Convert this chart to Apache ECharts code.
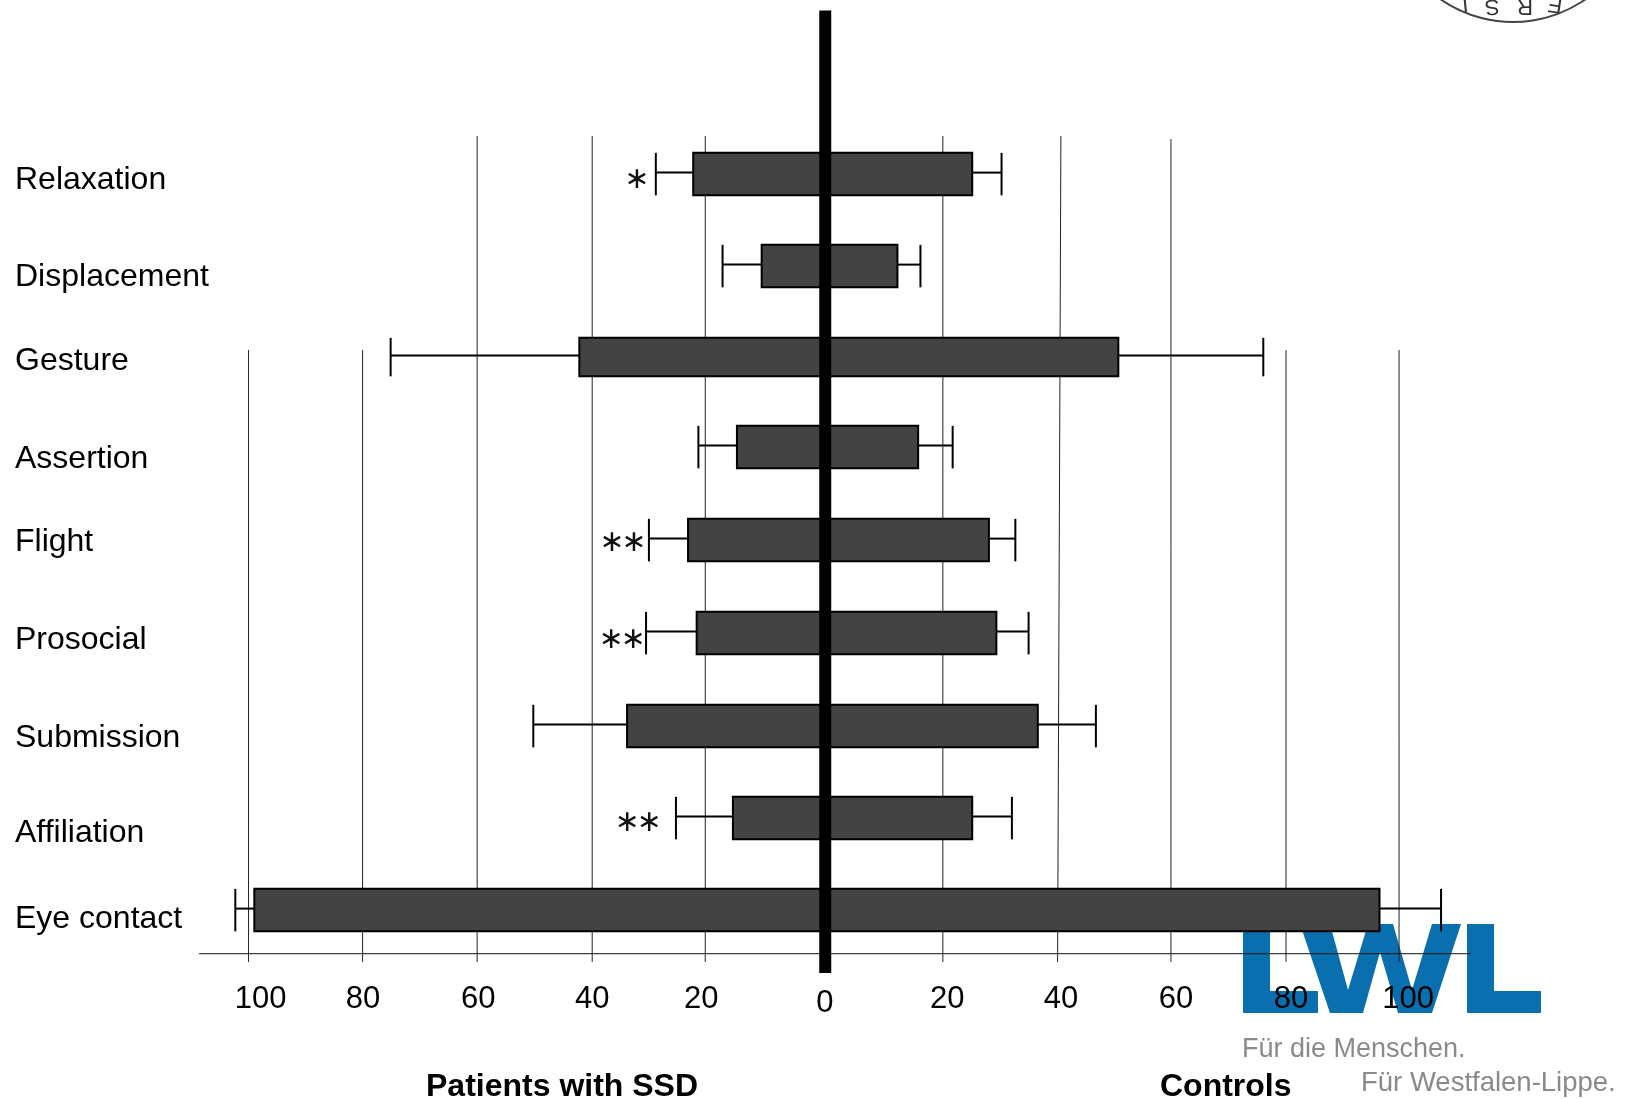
<!DOCTYPE html>
<html><head><meta charset="utf-8">
<script src="https://cdn.jsdelivr.net/npm/echarts@6/dist/echarts.min.js"></script>
<style>html,body{margin:0;padding:0;background:#fff}#c{width:1625px;height:1099px}</style>
</head><body><div id="c"></div>
<script>
const categories = ['Relaxation','Displacement','Gesture','Assertion','Flight','Prosocial','Submission','Affiliation','Eye contact'];
const patients = [22.7,10.8,42.5,15.1,23.6,22.1,34.2,15.8,99];
const patientsError = [29.2,17.6,75.3,21.8,30.4,30.9,50.5,25.7,102.3];
const controls = [25.8,12.8,51.2,16.4,28.7,30,37.2,25.8,96.6];
const controlsError = [30.9,16.8,76.4,22.4,33.3,35.6,47.3,32.7,107.3];
const significance = ['*','','','','**','**','','**',''];
const tickValues = [-100,-80,-60,-40,-20,0,20,40,60,80,100];

// layout tuning (pixels), not data
const rowNudge = [0.5,0.5,-0.5,-2.5,-1.5,-0.5,0.5,0.5,0.5];
const rowHeight = [42.5,42.5,38.5,42.5,42.5,42.5,42.5,42.5,42.5];
const labelNudge = [6.6,11.5,4,9.4,0.4,7,12.6,15.6,9.4];
const starGap = [8,0,0,0,4,2,0,16,0];
const starDrop = [6.4,0,0,0,3.5,7.4,0,5.4,0];
const tickLabelShift = {'-100':12,'-80':-0.5,'-60':-0.5,'-40':-1.5,'-20':-7.5,'0':1,'20':8.5,'40':7,'60':7,'80':7,'100':9};
const gridNudge = {'-100':0,'-80':-1,'-60':-1.5,'-40':-1.5,'-20':-3.5,'20':4,'40':4,'60':2,'80':2,'100':0};
const topShort = 350, topTall = 136, gridBottom = 962, baseY = 953.7;

const chart = echarts.init(document.getElementById('c'), null, {renderer:'canvas'});

function barItem(params, api){
  const i = params.dataIndex;
  const c = api.coord([0,i]);
  const cy = c[1] + rowNudge[i];
  const h = rowHeight[i];
  const l = api.coord([-patients[i],i])[0], r = api.coord([controls[i],i])[0];
  const le = api.coord([-patientsError[i],i])[0], re = api.coord([controlsError[i],i])[0];
  const ls = {stroke:'#000',lineWidth:2,fill:null};
  const wy = cy - 1.5;
  const line=(x1,y1,x2,y2)=>({type:'line',shape:{x1,y1,x2,y2},style:ls});
  const kids = [
    line(le,wy,l,wy), line(le,cy-h/2,le,cy+h/2),
    line(r,wy,re,wy), line(re,cy-h/2,re,cy+h/2),
    {type:'rect',shape:{x:l,y:cy-h/2,width:r-l,height:h},style:{fill:'#434343',stroke:'#000',lineWidth:2}}
  ];
  for(let k=0;k<significance[i].length;k++){
    kids.push({type:'text',style:{text:'∗',x:le-starGap[i]-11-22*k,y:cy+starDrop[i],align:'center',verticalAlign:'middle',
      font:'30px "DejaVu Sans"',fill:'#111'}});
  }
  return {type:'group',children:kids};
}
function gridItem(params, api){
  const v = tickValues[params.dataIndex];
  if(v===0) return null;
  const x = api.coord([v,0])[0] + (gridNudge[v]||0);
  const y1 = Math.abs(v)>=80 ? topShort : (v===60 ? topTall+3 : topTall);
  const tilt = v===40 ? 3 : 0;
  return {type:'line',shape:{x1:x+tilt,y1,x2:x-tilt*0.1,y2:gridBottom},style:{stroke:'#222',lineWidth:1}};
}
function baseItem(params, api){
  const x1 = api.coord([-108.6,0])[0], x2 = api.coord([112.5,0])[0];
  const x0 = api.coord([0.25,0])[0];
  return {type:'group',children:[
    {type:'line',shape:{x1,y1:baseY,x2,y2:baseY},style:{stroke:'#111',lineWidth:1}},
    {type:'rect',z2:5,shape:{x:x0-6,y:10.5,width:12,height:962.5},style:{fill:'#000'}}
  ]};
}
const tickRich = {};
tickValues.forEach(v=>{
  const s=tickLabelShift[v]||0;
  tickRich['t'+(v+100)]={fontSize:31,fontFamily:'Liberation Sans',color:'#000',padding:[v===0?4:0, s<0?-2*s:0, 0, s>0?2*s:0]};
});
const catRich = {};
categories.forEach((c,i)=>{
  catRich['c'+i]={fontSize:32,fontFamily:'Liberation Sans',color:'#000',padding:[2*labelNudge[i],0,0,0]};
});

chart.setOption({
  animation:false,
  backgroundColor:'#fff',
  grid:{left:133.5,width:1380.6,top:127.6,height:828},
  xAxis:{type:'value',min:-120,max:120,interval:20,
    axisLine:{show:false},axisTick:{show:false},splitLine:{show:false},
    axisLabel:{margin:28,showMinLabel:false,showMaxLabel:false,
      formatter:v=>`{t${v+100}|${Math.abs(v)}}`,rich:tickRich}},
  yAxis:{type:'category',inverse:true,data:categories,
    axisLine:{show:false},axisTick:{show:false},splitLine:{show:false},
    axisLabel:{margin:118.5,align:'left',interval:0,
      formatter:(v,i)=>`{c${categories.indexOf(v)}|${v}}`,rich:catRich}},
  graphic:{elements:[
    // LWL logo
    {type:'polygon',z:-1,shape:{points:[[1243,924],[1270,924],[1270,991],[1318,991],[1318,1013],[1243,1013]]},style:{fill:'#0a6fae'}},
    {type:'polygon',z:-1,shape:{points:[[1300,924],[1330,924],[1348,990],[1368,924],[1393,924],[1412,990],[1432,924],[1461,924],[1432,1013],[1398,1013],[1380,952],[1363,1013],[1330,1013]]},style:{fill:'#0a6fae'}},
    {type:'polygon',z:-1,shape:{points:[[1467,924],[1494,924],[1494,991],[1541,991],[1541,1013],[1467,1013]]},style:{fill:'#0a6fae'}},
    {type:'text',z:-1,style:{text:'Für die Menschen.',x:1242,y:1050,verticalAlign:'middle',font:'27px "Liberation Sans"',fill:'#8a8a8a'}},
    {type:'text',z:-1,style:{text:'Für Westfalen-Lippe.',x:1361,y:1083,verticalAlign:'middle',font:'27.5px "Liberation Sans"',fill:'#8a8a8a'}},
    // seal fragment
    {type:'arc',shape:{cx:1513,cy:-105,r:127,startAngle:Math.PI*0.2,endAngle:Math.PI*0.8},style:{stroke:'#444',lineWidth:2,fill:null}},
    {type:'text',rotation:Math.PI+0.1,x:1465,y:3,style:{text:'I',x:0,y:0,align:'center',verticalAlign:'middle',font:'22px "Liberation Sans"',fill:'#333'}},
    {type:'text',rotation:Math.PI+0.1,x:1492,y:6,style:{text:'S',x:0,y:0,align:'center',verticalAlign:'middle',font:'22px "Liberation Sans"',fill:'#333'}},
    {type:'text',rotation:Math.PI,x:1525,y:6,style:{text:'R',x:0,y:0,align:'center',verticalAlign:'middle',font:'22px "Liberation Sans"',fill:'#333'}},
    {type:'text',rotation:Math.PI-0.15,x:1555,y:4,style:{text:'E',x:0,y:0,align:'center',verticalAlign:'middle',font:'22px "Liberation Sans"',fill:'#333'}},
    // group titles
    {type:'text',style:{text:'Patients with SSD',x:426,y:1087,verticalAlign:'middle',font:'bold 32px "Liberation Sans"',fill:'#000'}},
    {type:'text',style:{text:'Controls',x:1160,y:1087,verticalAlign:'middle',font:'bold 32px "Liberation Sans"',fill:'#000'}}
  ]},
  series:[
    {type:'custom',coordinateSystem:'cartesian2d',clip:false,z:2,renderItem:gridItem,data:tickValues.map(v=>[v,0]),silent:true},
    {type:'custom',coordinateSystem:'cartesian2d',clip:false,z:3,renderItem:barItem,data:categories.map((c,i)=>[controls[i],c]),silent:true},
    {type:'custom',coordinateSystem:'cartesian2d',clip:false,z:4,renderItem:baseItem,data:[[0,0]],silent:true}
  ]
});
</script></body></html>
